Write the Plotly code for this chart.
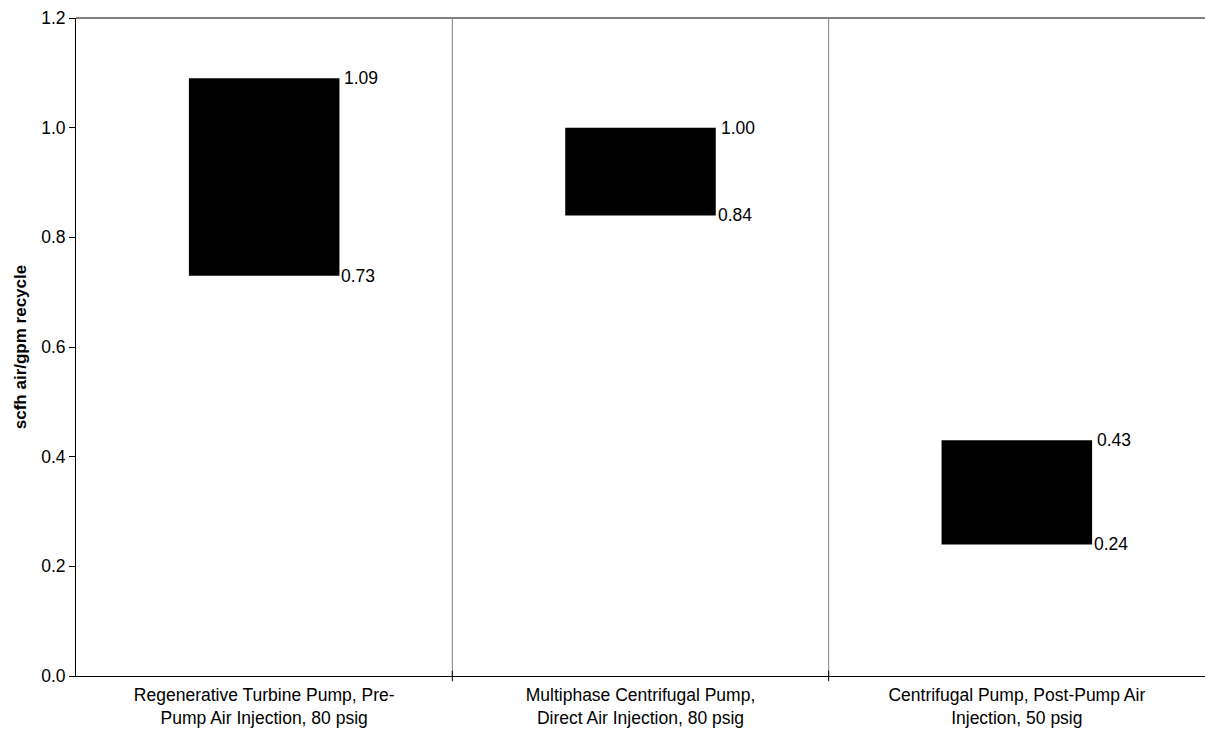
import plotly.graph_objects as go

# Air demand range for each pump configuration
categories = [
    "Regenerative Turbine Pump, Pre-<br>Pump Air Injection, 80 psig",
    "Multiphase Centrifugal Pump,<br>Direct Air Injection, 80 psig",
    "Centrifugal Pump, Post-Pump Air<br>Injection, 50 psig",
]
low_values = [0.73, 0.84, 0.24]
high_values = [1.09, 1.00, 0.43]
y_ticks = [0.0, 0.2, 0.4, 0.6, 0.8, 1.0, 1.2]

positions = list(range(len(categories)))
bar_width = 0.4
font_family = "Liberation Sans, Arial, sans-serif"
text_size = 17.5

fig = go.Figure()
fig.add_trace(go.Bar(
    x=positions,
    y=[h - l for h, l in zip(high_values, low_values)],
    base=low_values,
    width=bar_width,
    marker=dict(color="black", line=dict(width=0)),
    hoverinfo="skip",
    showlegend=False,
))

# Range end labels to the right of each floating bar
for p, lo, hi in zip(positions, low_values, high_values):
    fig.add_annotation(x=p + bar_width / 2, y=hi, text=f"{hi:.2f}",
                       xanchor="left", yanchor="middle", xshift=3,
                       showarrow=False, font=dict(size=text_size, color="black", family=font_family))
    fig.add_annotation(x=p + bar_width / 2, y=lo, text=f"{lo:.2f}",
                       xanchor="left", yanchor="middle", xshift=0,
                       showarrow=False, font=dict(size=text_size, color="black", family=font_family))

# Category separators
for p in positions[:-1]:
    fig.add_shape(type="line", xref="x", yref="paper", x0=p + 0.5, x1=p + 0.5,
                  y0=0, y1=1, line=dict(color="#808080", width=1))
    fig.add_shape(type="line", xref="x", yref="paper", x0=p + 0.5, x1=p + 0.5,
                  y0=-0.008, y1=0.008, line=dict(color="black", width=1))

# Top frame line
fig.add_shape(type="line", xref="paper", yref="paper", x0=0, x1=1, y0=1, y1=1,
              line=dict(color="#808080", width=2))

fig.update_layout(
    width=1205, height=735,
    margin=dict(l=76, r=0, t=18, b=59),
    plot_bgcolor="white", paper_bgcolor="white",
    font=dict(family=font_family, color="black"),
    xaxis=dict(
        range=[-0.5, len(categories) - 0.5],
        tickvals=positions, ticktext=categories,
        tickfont=dict(size=text_size), ticks="", ticklabelstandoff=3,
        showgrid=False, zeroline=False,
        showline=True, linecolor="black", linewidth=1,
    ),
    yaxis=dict(
        range=[0, 1.2], tickvals=y_ticks, tickformat=".1f",
        tickfont=dict(size=text_size), ticks="outside", ticklen=6, tickcolor="black",
        showgrid=False, zeroline=False,
        showline=True, linecolor="black", linewidth=1,
        title=dict(text="<b>scfh air/gpm recycle</b>", font=dict(size=17), standoff=10),
    ),
)

fig.write_html("out.html")
